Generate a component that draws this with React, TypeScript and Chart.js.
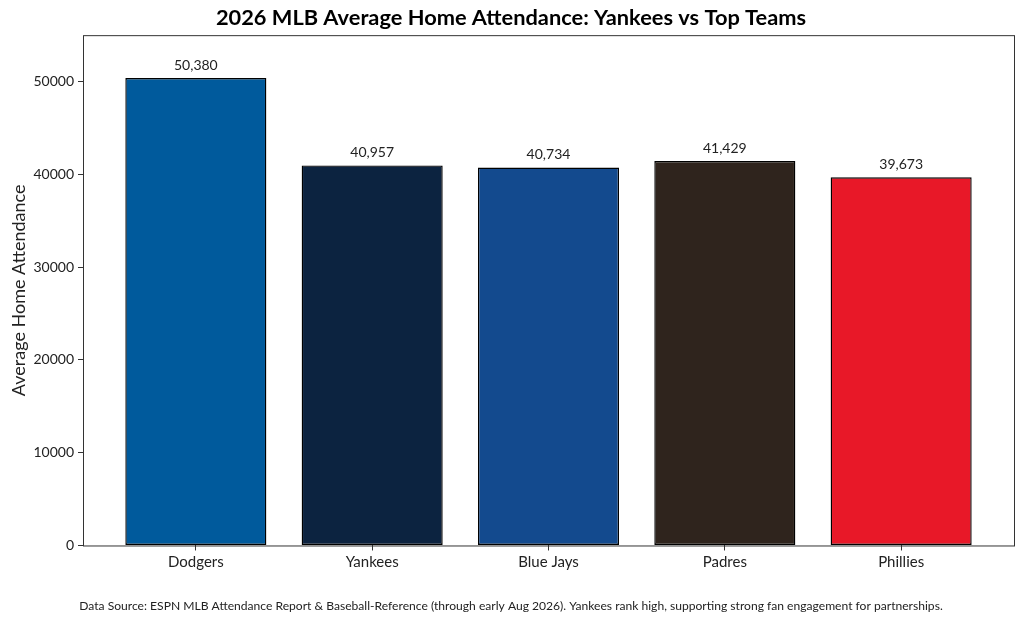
import { useEffect, useRef } from 'react';
import { Chart, registerables } from 'chart.js';

Chart.register(...registerables);

const teams = ['Dodgers', 'Yankees', 'Blue Jays', 'Padres', 'Phillies'];
const attendance = [50380, 40957, 40734, 41429, 39673];
const teamColors = ['#005A9C', '#0C2340', '#134A8E', '#2F241D', '#E81828'];
const yTicks = [0, 10000, 20000, 30000, 40000, 50000];

const FONT = 'Lato, "Noto Sans", sans-serif';
const INK = '#222222';

// frame around the plot + value labels over bars
const framePlugin = {
  id: 'frame',
  afterDatasetsDraw(chart: Chart) {
    const { ctx, chartArea: a } = chart;
    ctx.save();
    ctx.strokeStyle = '#333333';
    ctx.lineWidth = 1;
    ctx.strokeRect(a.left + 0.5, a.top + 0.5, a.right - a.left, a.bottom - a.top);

    const meta = chart.getDatasetMeta(0);
    ctx.fillStyle = INK;
    ctx.font = `14px ${FONT}`;
    ctx.textAlign = 'center';
    ctx.textBaseline = 'bottom';
    meta.data.forEach((bar: any, i) => {
      ctx.fillText(attendance[i].toLocaleString('en-US'), bar.x, bar.y - 6);
    });
    ctx.restore();
  },
};

export default function App() {
  const canvasRef = useRef<HTMLCanvasElement>(null);

  useEffect(() => {
    document.body.style.margin = '0';
    if (!canvasRef.current) return;
    const chart = new Chart(canvasRef.current, {
      type: 'bar',
      data: {
        datasets: [{
          data: attendance.map((v, i) => ({ x: i, y: v })),
          backgroundColor: teamColors,
          borderColor: '#000000',
          borderWidth: 1.4,
          borderSkipped: false,
          barPercentage: 0.8,
          categoryPercentage: 1,
        }],
      },
      options: {
        animation: false,
        responsive: false,
        layout: { padding: { left: 8, right: 10, top: 0, bottom: 0 } },
        plugins: {
          legend: { display: false },
          tooltip: { enabled: false },
          title: {
            display: true,
            text: '2026 MLB Average Home Attendance: Yankees vs Top Teams',
            color: '#000000',
            font: { family: FONT, size: 21.8, weight: 'bold' },
            padding: { top: 5, bottom: 4 },
          },
          subtitle: {
            display: true,
            position: 'bottom',
            text: 'Data Source: ESPN MLB Attendance Report & Baseball-Reference (through early Aug 2026). Yankees rank high, supporting strong fan engagement for partnerships.',
            color: INK,
            font: { family: FONT, size: 12.1 },
            padding: { top: 0, bottom: 10 },
          },
        },
        scales: {
          x: {
            type: 'linear',
            offset: false,
            min: -0.64,
            max: 4.64,
            afterBuildTicks: (scale: any) => {
              scale.ticks = teams.map((_, i) => ({ value: i }));
            },
            afterFit: (scale: any) => { scale.height = 53; },
            ticks: {
              color: INK,
              font: { family: FONT, size: 15 },
              padding: 3,
              callback: (v: any) => teams[v] ?? '',
            },
            grid: { offset: false, drawOnChartArea: false, color: '#333333', tickLength: 5 },
            border: { display: false },
          },
          y: {
            min: 0,
            max: 55000,
            afterBuildTicks: (scale: any) => {
              scale.ticks = yTicks.map(v => ({ value: v }));
            },
            afterFit: (scale: any) => { scale.width = 75; },
            ticks: {
              color: INK,
              font: { family: FONT, size: 14 },
              padding: 4,
              callback: (v: any) => String(v),
            },
            grid: { drawOnChartArea: false, color: '#333333', tickLength: 5 },
            border: { display: false },
            title: {
              display: true,
              text: 'Average Home Attendance',
              color: INK,
              font: { family: FONT, size: 18 },
              padding: 0,
            },
          },
        },
      },
      plugins: [framePlugin],
    });
    return () => { chart.destroy(); };
  }, []);

  return <canvas ref={canvasRef} width={1024} height={623} style={{ display: 'block' }} />;
}
